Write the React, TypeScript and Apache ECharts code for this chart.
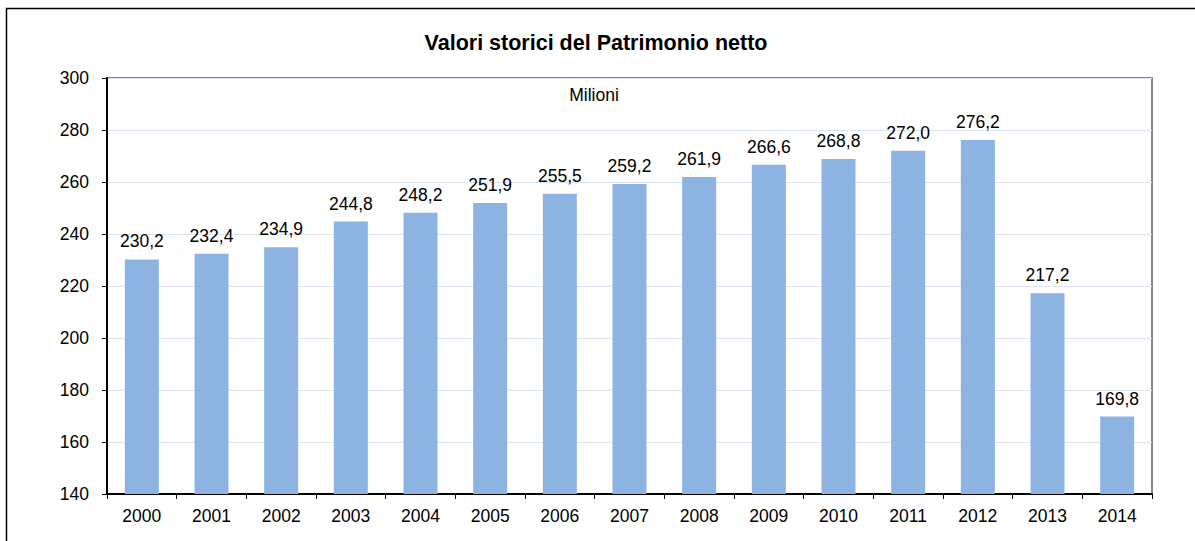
import React, { useEffect, useRef } from "react";
import * as echarts from "echarts";

const years = ["2000", "2001", "2002", "2003", "2004", "2005", "2006", "2007", "2008", "2009", "2010", "2011", "2012", "2013", "2014"];
const values = [230.2, 232.4, 234.9, 244.8, 248.2, 251.9, 255.5, 259.2, 261.9, 266.6, 268.8, 272.0, 276.2, 217.2, 169.8];
const yMin = 140;
const yMax = 300;
const yStep = 20;

const FONT = "'Liberation Sans', Arial, sans-serif";

export default function App() {
  const ref = useRef<HTMLDivElement>(null);
  useEffect(() => {
    if (!ref.current) return;
    const chart = echarts.init(ref.current, null, { renderer: "svg" });
    chart.setOption({
      animation: false,
      backgroundColor: "#ffffff",
      title: {
        text: "Valori storici del Patrimonio netto",
        left: 591,
        top: 27,
        textAlign: "center",
        textStyle: { fontFamily: FONT, fontSize: 21.5, fontWeight: "bold", color: "#000" },
      },
      graphic: [
        {
          type: "rect",
          shape: { x: 6.5, y: 8.5, width: 1300, height: 600 },
          style: { fill: "none", stroke: "#000", lineWidth: 1.5 },
          silent: true,
        },
        {
          type: "text",
          x: 594,
          y: 95,
          style: { text: "Milioni", font: `17.5px ${FONT}`, fill: "#000", textAlign: "center", textVerticalAlign: "middle" },
          silent: true,
          z: 10,
        },
      ],
      grid: {
        left: 107,
        top: 78,
        right: 43,
        bottom: 47,
        show: true,
        borderColor: "#868686",
        borderWidth: 2,
        backgroundColor: "#fff",
      },
      xAxis: {
        type: "category",
        data: years,
        axisLine: { lineStyle: { color: "#000", width: 2 } },
        axisTick: { show: true, length: 5, lineStyle: { color: "#000", width: 1 } },
        axisLabel: { fontFamily: FONT, fontSize: 17.5, color: "#000", margin: 13 },
      },
      yAxis: {
        type: "value",
        min: yMin,
        max: yMax,
        interval: yStep,
        axisLine: { show: true, lineStyle: { color: "#000", width: 2 } },
        axisTick: { show: true, length: 5, lineStyle: { color: "#000", width: 1 } },
        axisLabel: {
          fontFamily: FONT,
          fontSize: 17.5,
          color: "#000",
          margin: 18,
        },
        splitLine: { lineStyle: { color: "#dbe5f1", width: 1 } },
      },
      series: [
        {
          type: "bar",
          data: values,
          barWidth: 34,
          itemStyle: { color: "#8db3e2" },
          label: {
            show: true,
            position: "top",
            distance: 9,
            fontFamily: FONT,
            fontSize: 17.5,
            color: "#000",
            formatter: (p: any) => p.value.toFixed(1).replace(".", ","),
          },
        },
      ],
    });
    return () => chart.dispose();
  }, []);
  return <div ref={ref} style={{ position: "fixed", left: 0, top: 0, width: 1195, height: 541 }} />;
}
